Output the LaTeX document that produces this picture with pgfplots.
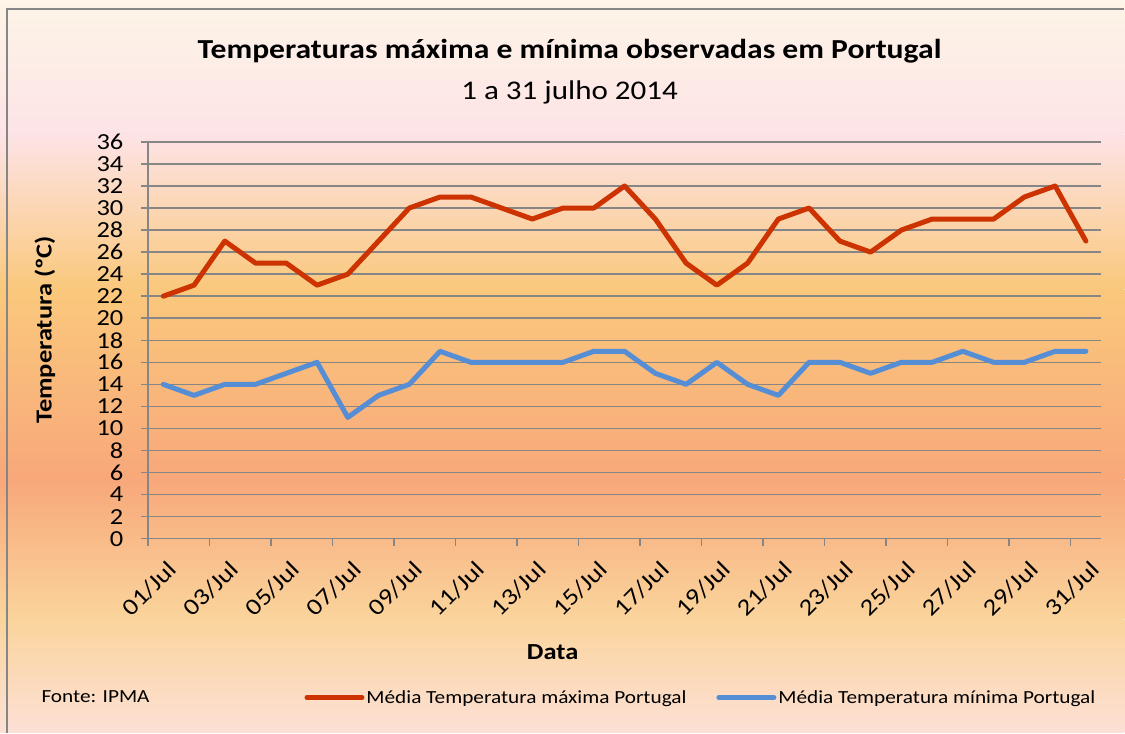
\documentclass[border=0pt]{standalone}
\usepackage{pgfplots}
\pgfplotsset{compat=1.18}
\usepackage{fontspec}
\setmainfont{Carlito}[FakeStretch=1.15]
\definecolor{c0}{HTML}{FDF5E7}
\definecolor{c1}{HTML}{FDE3E6}
\definecolor{c2}{HTML}{FAC87C}
\definecolor{c3}{HTML}{F8A87A}
\definecolor{c4}{HTML}{FAD49C}
\definecolor{c5}{HTML}{FDE0D6}
\definecolor{redline}{HTML}{CC3300}
\definecolor{blueline}{HTML}{558ED5}
\definecolor{gridgray}{HTML}{868686}
\begin{document}
\begin{tikzpicture}[x=1pt,y=1pt]
% background (image y measured from top: tikz y = 733 - y_img)
\shade[top color=c0, bottom color=c1] (0,733) rectangle (1125,598);
\shade[top color=c1, bottom color=c2] (0,598.2) rectangle (1125,443);
\shade[top color=c2, bottom color=c3] (0,443.2) rectangle (1125,253);
\shade[top color=c3, bottom color=c4] (0,253.2) rectangle (1125,113);
\shade[top color=c4, bottom color=c5] (0,113.2) rectangle (1125,0);
\draw[gridgray, line width=1.5pt] (7,0) -- (7,724) -- (1125,724);
\begin{axis}[
  at={(148pt,194pt)}, anchor=south west,
  scale only axis, width=954pt, height=397pt,
  xmin=0.5, xmax=31.5, ymin=0, ymax=36,
  axis x line*=bottom, axis y line*=left,
  axis line style={gridgray, line width=1.5pt, -},
  ytick={0,2,...,36},
  ymajorgrids, grid style={gridgray, line width=1.5pt},
  tick align=outside,
  major tick length=7pt,
  tick style={gridgray, line width=1.5pt},
  xtick={0.5,2.5,...,30.5}, xticklabels={},
  extra x ticks={1,3,...,31},
  extra x tick labels={01/Jul,03/Jul,05/Jul,07/Jul,09/Jul,11/Jul,13/Jul,15/Jul,17/Jul,19/Jul,21/Jul,23/Jul,25/Jul,27/Jul,29/Jul,31/Jul},
  extra x tick style={major tick length=0pt, grid=none},
  x tick label style={rotate=45, anchor=north east, font=\fontsize{23.5}{26}\selectfont, xshift=-8.5pt, yshift=-13.5pt},
  y tick label style={font=\fontsize{23}{26}\selectfont, xshift=-14pt},
  /pgf/number format/assume math mode=true,
  legend style={at={(rel axis cs:0.58,-0.4005)}, anchor=center, draw=none, fill=none,
    legend columns=2, font=\fontsize{18.5}{22}\selectfont,
    /tikz/every even column/.append style={column sep=28pt}},
  legend image code/.code={\draw[#1, line width=5pt] (0pt,0pt) -- (55pt,0pt);},
  legend cell align=left,
]
\addplot[redline, line width=5pt, line join=round, line cap=round] coordinates {
(1,22)(2,23)(3,27)(4,25)(5,25)(6,23)(7,24)(8,27)(9,30)(10,31)(11,31)(12,30)(13,29)(14,30)(15,30)(16,32)
(17,29)(18,25)(19,23)(20,25)(21,29)(22,30)(23,27)(24,26)(25,28)(26,29)(27,29)(28,29)(29,31)(30,32)(31,27)};
\addlegendentry{Média Temperatura máxima Portugal}
\addplot[blueline, line width=5pt, line join=round, line cap=round] coordinates {
(1,14)(2,13)(3,14)(4,14)(5,15)(6,16)(7,11)(8,13)(9,14)(10,17)(11,16)(12,16)(13,16)(14,16)(15,17)(16,17)
(17,15)(18,14)(19,16)(20,14)(21,13)(22,16)(23,16)(24,15)(25,16)(26,16)(27,17)(28,16)(29,16)(30,17)(31,17)};
\addlegendentry{Média Temperatura mínima Portugal}
\end{axis}
\node[font=\fontsize{27.5}{32}\selectfont\bfseries] at (570,682) {Temperaturas máxima e mínima observadas em Portugal};
\node[font=\fontsize{27}{32}\selectfont] at (570,640) {1 a 31 julho 2014};
\node[font=\fontsize{23}{28}\selectfont\bfseries, rotate=90] at (45,403) {Temperatura (ºC)};
\node[font=\fontsize{23}{28}\selectfont\bfseries] at (553,80) {Data};
\node[font=\fontsize{18.5}{22}\selectfont, anchor=west] at (38,36) {Fonte: IPMA};
\end{tikzpicture}
\end{document}
